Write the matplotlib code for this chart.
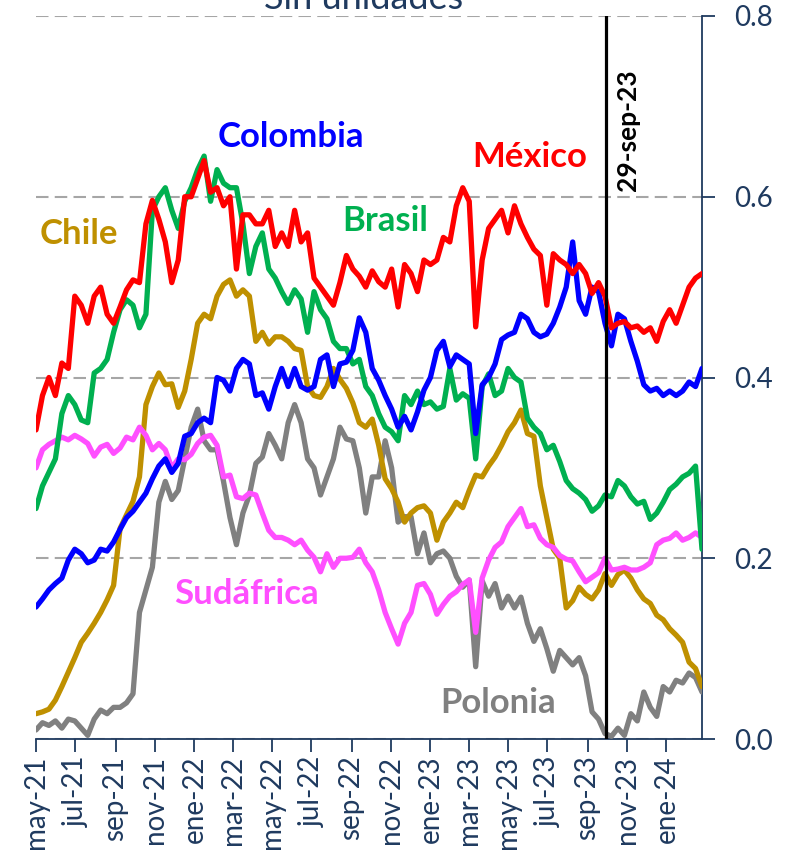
import matplotlib
matplotlib.use("Agg")
import matplotlib.pyplot as plt
import matplotlib.dates as mdates
import pandas as pd

plt.rcParams.update({
    "font.family": ["Lato", "DejaVu Sans"],
    "font.size": 20,
})

NAVY = "#1F3A5F"

# Serie cada 10 días desde el 1-may-21
FECHA_INICIO = "2021-05-01"
PASO = "10D"

mexico = [
    0.342, 0.38, 0.40, 0.38, 0.416, 0.41, 0.49, 0.48, 0.46, 0.49,
    0.50, 0.47, 0.46, 0.478, 0.497, 0.508, 0.505, 0.57, 0.596, 0.575,
    0.55, 0.505, 0.53, 0.60, 0.60, 0.62, 0.64, 0.605, 0.61, 0.59,
    0.60, 0.52, 0.58, 0.58, 0.57, 0.57, 0.585, 0.545, 0.56, 0.545,
    0.585, 0.55, 0.56, 0.51, 0.50, 0.49, 0.48, 0.505, 0.535, 0.52,
    0.512, 0.50, 0.518, 0.506, 0.50, 0.52, 0.478, 0.525, 0.515, 0.495,
    0.53, 0.525, 0.53, 0.555, 0.55, 0.59, 0.61, 0.595, 0.456, 0.53,
    0.565, 0.575, 0.585, 0.56, 0.59, 0.57, 0.555, 0.542, 0.535, 0.48,
    0.537, 0.53, 0.525, 0.515, 0.525, 0.515, 0.493, 0.505, 0.49, 0.455,
    0.46, 0.462, 0.455, 0.457, 0.45, 0.455, 0.44, 0.462, 0.475, 0.46,
    0.48, 0.50, 0.51, 0.515,
]

colombia = [
    0.146, 0.155, 0.165, 0.172, 0.178, 0.198, 0.21, 0.205, 0.195, 0.198,
    0.21, 0.208, 0.218, 0.232, 0.245, 0.252, 0.262, 0.272, 0.288, 0.302,
    0.31, 0.295, 0.305, 0.335, 0.338, 0.35, 0.355, 0.35, 0.40, 0.397,
    0.385, 0.41, 0.42, 0.415, 0.38, 0.383, 0.365, 0.39, 0.41, 0.39,
    0.41, 0.39, 0.386, 0.39, 0.42, 0.425, 0.39, 0.415, 0.417, 0.43,
    0.466, 0.45, 0.41, 0.397, 0.38, 0.365, 0.345, 0.357, 0.342, 0.362,
    0.386, 0.40, 0.43, 0.44, 0.412, 0.425, 0.42, 0.415, 0.338, 0.392,
    0.40, 0.415, 0.442, 0.447, 0.45, 0.47, 0.465, 0.45, 0.445, 0.448,
    0.46, 0.478, 0.50, 0.55, 0.485, 0.47, 0.50, 0.495, 0.46, 0.435,
    0.47, 0.465, 0.44, 0.418, 0.392, 0.385, 0.388, 0.38, 0.385, 0.38,
    0.385, 0.395, 0.39, 0.41,
]

brasil = [
    0.255, 0.28, 0.295, 0.31, 0.36, 0.38, 0.37, 0.353, 0.35, 0.405,
    0.41, 0.42, 0.45, 0.475, 0.486, 0.48, 0.455, 0.47, 0.585, 0.60,
    0.61, 0.585, 0.565, 0.595, 0.61, 0.63, 0.645, 0.595, 0.63, 0.615,
    0.61, 0.61, 0.57, 0.515, 0.545, 0.56, 0.52, 0.51, 0.495, 0.482,
    0.497, 0.487, 0.45, 0.495, 0.475, 0.465, 0.44, 0.432, 0.432, 0.415,
    0.42, 0.39, 0.38, 0.36, 0.345, 0.34, 0.33, 0.38, 0.37, 0.385,
    0.37, 0.373, 0.365, 0.368, 0.41, 0.375, 0.382, 0.377, 0.31, 0.39,
    0.404, 0.38, 0.385, 0.41, 0.40, 0.395, 0.355, 0.345, 0.338, 0.32,
    0.325, 0.307, 0.286, 0.277, 0.272, 0.265, 0.252, 0.258, 0.27, 0.268,
    0.286, 0.28, 0.268, 0.26, 0.263, 0.243, 0.25, 0.262, 0.276, 0.282,
    0.29, 0.294, 0.302, 0.21,
]

chile = [
    0.028, 0.03, 0.033, 0.043, 0.058, 0.074, 0.09, 0.107, 0.117, 0.128,
    0.14, 0.154, 0.17, 0.233, 0.248, 0.263, 0.29, 0.37, 0.39, 0.405,
    0.392, 0.393, 0.367, 0.385, 0.42, 0.46, 0.47, 0.465, 0.49, 0.503,
    0.508, 0.49, 0.497, 0.49, 0.44, 0.45, 0.437, 0.445, 0.445, 0.44,
    0.432, 0.43, 0.39, 0.38, 0.378, 0.39, 0.41, 0.398, 0.388, 0.372,
    0.35, 0.345, 0.354, 0.325, 0.288, 0.277, 0.262, 0.24, 0.25, 0.256,
    0.258, 0.25, 0.22, 0.24, 0.25, 0.262, 0.256, 0.275, 0.292, 0.29,
    0.302, 0.312, 0.325, 0.34, 0.35, 0.364, 0.338, 0.335, 0.28, 0.245,
    0.21, 0.20, 0.145, 0.153, 0.168, 0.16, 0.155, 0.165, 0.183, 0.17,
    0.182, 0.187, 0.178, 0.165, 0.155, 0.15, 0.137, 0.132, 0.122, 0.115,
    0.107, 0.085, 0.078, 0.058,
]

sudafrica = [
    0.30, 0.32, 0.326, 0.33, 0.334, 0.331, 0.336, 0.332, 0.327, 0.313,
    0.323, 0.326, 0.316, 0.322, 0.334, 0.331, 0.345, 0.336, 0.32, 0.327,
    0.32, 0.30, 0.31, 0.309, 0.315, 0.327, 0.334, 0.336, 0.325, 0.29,
    0.292, 0.268, 0.266, 0.272, 0.27, 0.25, 0.231, 0.223, 0.223, 0.22,
    0.215, 0.22, 0.209, 0.201, 0.185, 0.205, 0.19, 0.20, 0.20, 0.201,
    0.21, 0.195, 0.185, 0.165, 0.14, 0.122, 0.105, 0.128, 0.14, 0.17,
    0.172, 0.16, 0.138, 0.149, 0.158, 0.163, 0.171, 0.176, 0.118, 0.178,
    0.198, 0.212, 0.218, 0.235, 0.245, 0.255, 0.235, 0.237, 0.222, 0.215,
    0.212, 0.203, 0.199, 0.197, 0.185, 0.174, 0.179, 0.184, 0.20, 0.187,
    0.188, 0.19, 0.187, 0.187, 0.19, 0.195, 0.215, 0.22, 0.222, 0.228,
    0.22, 0.223, 0.228, 0.223,
]

polonia = [
    0.01, 0.018, 0.015, 0.02, 0.012, 0.022, 0.02, 0.012, 0.004, 0.022,
    0.032, 0.028, 0.035, 0.035, 0.04, 0.05, 0.14, 0.165, 0.19, 0.262,
    0.285, 0.265, 0.275, 0.31, 0.345, 0.365, 0.33, 0.32, 0.32, 0.285,
    0.245, 0.215, 0.25, 0.27, 0.305, 0.312, 0.338, 0.325, 0.31, 0.35,
    0.37, 0.35, 0.31, 0.30, 0.27, 0.29, 0.31, 0.345, 0.332, 0.33,
    0.30, 0.25, 0.29, 0.29, 0.33, 0.30, 0.24, 0.246, 0.246, 0.205,
    0.228, 0.195, 0.205, 0.208, 0.20, 0.18, 0.168, 0.176, 0.08, 0.175,
    0.158, 0.172, 0.145, 0.158, 0.145, 0.157, 0.128, 0.108, 0.122, 0.10,
    0.075, 0.098, 0.09, 0.082, 0.09, 0.07, 0.03, 0.022, 0.006, 0.003,
    0.012, 0.004, 0.028, 0.02, 0.052, 0.035, 0.025, 0.058, 0.052, 0.065,
    0.062, 0.073, 0.068, 0.052,
]

# orden de dibujo: de abajo hacia arriba
series = [
    ("Polonia", polonia, "#808080"),
    ("Chile", chile, "#BF9000"),
    ("Sudáfrica", sudafrica, "#FF4FFF"),
    ("Brasil", brasil, "#00B050"),
    ("Colombia", colombia, "#0000FF"),
    ("México", mexico, "#FF0000"),
]

# etiquetas de cada país: (texto, fecha del centro, y de la base, color)
etiquetas = [
    ("Colombia", "2022-05-30", 0.655, "#0000FF"),
    ("México", "2023-06-04", 0.633, "#FF0000"),
    ("Chile", "2021-07-06", 0.548, "#BF9000"),
    ("Brasil", "2022-10-23", 0.562, "#00B050"),
    ("Sudáfrica", "2022-03-23", 0.149, "#FF4FFF"),
    ("Polonia", "2023-04-15", 0.029, "#808080"),
]

FECHA_CORTE = "2023-09-29"
MESES = ["ene", "feb", "mar", "abr", "may", "jun",
         "jul", "ago", "sep", "oct", "nov", "dic"]

fechas = pd.date_range(FECHA_INICIO, periods=len(mexico), freq=PASO)

fig = plt.figure(figsize=(7.91, 8.57), dpi=100)
ax = fig.add_axes([36 / 791, 118 / 857, 666 / 791, 723 / 857])

for nombre, valores, color in series:
    ax.plot(fechas, valores, color=color, lw=3.8, solid_joinstyle="round",
            solid_capstyle="round", zorder=3)

ax.axvline(pd.Timestamp(FECHA_CORTE), ymin=0, ymax=1, color="black", lw=2.3, zorder=4)
ax.text(pd.Timestamp("2023-11-03"), 0.674, "29-sep-23", rotation=90,
        ha="center", va="center", fontsize=19, fontweight="bold", color="black")

for texto, fecha, y, color in etiquetas:
    ax.text(pd.Timestamp(fecha), y, texto, ha="center", va="baseline",
            fontsize=25, fontweight="bold", color=color, zorder=5)

ax.set_xlim(fechas[0], fechas[-1])
ax.set_ylim(0, 0.8)

ax.xaxis.set_major_locator(mdates.MonthLocator(bymonth=[1, 3, 5, 7, 9, 11]))
ax.xaxis.set_major_formatter(
    plt.FuncFormatter(lambda v, pos: "{}-{:%y}".format(
        MESES[mdates.num2date(v).month - 1], mdates.num2date(v))))
plt.setp(ax.get_xticklabels(), rotation=90)

ax.yaxis.tick_right()
ax.set_yticks([0.0, 0.2, 0.4, 0.6, 0.8])
ax.yaxis.set_major_formatter(plt.FuncFormatter(lambda v, pos: f"{v:.1f}"))

ax.tick_params(axis="x", direction="out", length=9, width=1.3, color=NAVY,
               labelcolor=NAVY, labelsize=20, pad=3)
ax.tick_params(axis="y", direction="out", length=9, width=1.3, color=NAVY,
               labelcolor=NAVY, labelsize=20, pad=14)

for lado in ["left", "top"]:
    ax.spines[lado].set_visible(False)
for lado in ["right", "bottom"]:
    ax.spines[lado].set_color(NAVY)
    ax.spines[lado].set_linewidth(1.3)

ax.yaxis.grid(True, color="#A6A6A6", lw=1.5, linestyle=(0, (6, 3)), zorder=0)
ax.set_axisbelow(True)

fig.text(364 / 791, 1 - 9 / 857, "Sin unidades", ha="center", va="baseline",
         fontsize=26, color=NAVY)

fig.savefig("out.png", dpi=100)
